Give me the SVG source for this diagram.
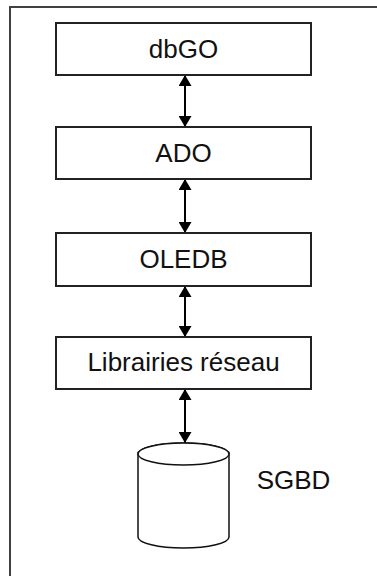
<svg xmlns="http://www.w3.org/2000/svg" width="377" height="576" viewBox="0 0 377 576">
<style>
.frame{fill:none;stroke:#404040;stroke-width:2}
.box{fill:#fff;stroke:#222;stroke-width:2}
.lbl{font-family:"Liberation Sans",Arial,sans-serif;font-size:26px;fill:#111;text-anchor:middle}
.conn{stroke:#000;stroke-width:2;fill:none;marker-start:url(#ah);marker-end:url(#ah)}
.cyl{fill:#fff;stroke:#111;stroke-width:1.5}
</style>
<defs>
<marker id="ah" viewBox="0 0 11 13" refX="11" refY="6.5" markerWidth="5.5" markerHeight="6.5" orient="auto-start-reverse" markerUnits="strokeWidth">
<path d="M0,0 L11,6.5 L0,13 Z" fill="#000"/>
</marker>
</defs>
<rect class="frame" x="10" y="7" width="380" height="590"/>
<g id="connectors">
<line class="conn" x1="185" y1="75" x2="185" y2="127"/>
<line class="conn" x1="185" y1="179" x2="185" y2="233"/>
<line class="conn" x1="185" y1="286" x2="185" y2="337"/>
<line class="conn" x1="185" y1="389" x2="185" y2="443"/>
</g>
<g id="dbGO">
<rect class="box" x="56" y="23" width="255" height="52"/>
<text class="lbl" x="183.5" y="58">dbGO</text>
</g>
<g id="ADO">
<rect class="box" x="56" y="127" width="255" height="52"/>
<text class="lbl" x="183.5" y="162">ADO</text>
</g>
<g id="OLEDB">
<rect class="box" x="56" y="233" width="255" height="53"/>
<text class="lbl" x="183.5" y="268">OLEDB</text>
</g>
<g id="Librairies">
<rect class="box" x="56" y="337" width="255" height="52"/>
<text class="lbl" x="183.5" y="371">Librairies réseau</text>
</g>
<g id="SGBD">
<path class="cyl" d="M138,454 L138,537 A45.5,11 0 0 0 229,537 L229,454 A45.5,11 0 0 0 138,454 Z"/>
<ellipse class="cyl" cx="183.5" cy="454" rx="45.5" ry="11" fill="none"/>
<text class="lbl" x="293.5" y="489">SGBD</text>
</g>
</svg>
